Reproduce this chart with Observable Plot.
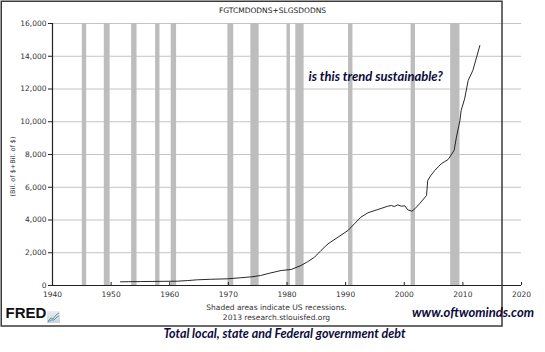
<!DOCTYPE html>
<html>
<head>
<meta charset="utf-8">
<script src="https://cdn.jsdelivr.net/npm/d3@7"></script>
<script src="https://cdn.jsdelivr.net/npm/@observablehq/plot@0.6"></script>
<style>
  html, body { margin: 0; padding: 0; background: #fff; }
  #chart { position: relative; width: 545px; height: 352px; }
</style>
</head>
<body>
<div id="chart"></div>
<script>
// ---- data ----
const years = [1951.6, 1953, 1955, 1957, 1959, 1961.3, 1963, 1964.7, 1967, 1969.9, 1972, 1974, 1975.5, 1977, 1979,
  1980.7, 1982.4, 1983.5, 1984.7, 1985.8, 1987, 1988.7, 1990.4, 1991.5, 1992.6, 1993.8, 1995.5, 1997.2, 1997.8,
  1998.3, 1998.9, 1999.5, 2000.1, 2000.6, 2001.3, 2001.8, 2002.6, 2003.8, 2004.0, 2004.5, 2005.2, 2006.3, 2007.5,
  2008.5, 2008.9, 2009.5, 2009.7, 2010.3, 2010.9, 2011.7, 2012.9];
const debt = [225, 232, 240, 248, 255, 263, 300, 348, 380, 409, 470, 530, 610, 750, 916,
  977, 1221, 1450, 1730, 2137, 2545, 2950, 3359, 3767, 4170, 4440, 4641, 4843, 4885,
  4824, 4926, 4843, 4865, 4620, 4537, 4683, 4989, 5496, 6412, 6700, 7023, 7430, 7700,
  8244, 9057, 10076, 10687, 11400, 12519, 13130, 14656];

const recStart = ["1945-02", "1948-11", "1953-07", "1957-08", "1960-04", "1969-12", "1973-11", "1980-01", "1981-07", "1990-07", "2001-03", "2007-12"];
const recEnd   = ["1945-10", "1949-10", "1954-05", "1958-04", "1961-02", "1970-11", "1975-03", "1980-07", "1982-11", "1991-03", "2001-11", "2009-06"];

const xTicks = [1940, 1950, 1960, 1970, 1980, 1990, 2000, 2010, 2020];
const yTicks = [0, 2000, 4000, 6000, 8000, 10000, 12000, 14000, 16000];

const seriesTitle = "FGTCMDODNS+SLGSDODNS";
const yLabel = "(Bil. of $+Bil. of $)";
const noteLines = ["Shaded areas indicate US recessions.", "2013 research.stlouisfed.org"];
const annotation = "is this trend sustainable?";
const site = "www.oftwominds.com";
const caption = "Total local, state and Federal government debt";

// ---- build tables ----
const series = years.map((y, i) => ({year: y, value: debt[i]}));
const toYear = (s, end) => { const [y, m] = s.split("-").map(Number); return y + (end ? m : m - 1) / 12; };
const recessions = recStart.map((s, i) => ({start: toYear(s, false), end: toYear(recEnd[i], true)}));

const axisFont = "DejaVu Sans, Verdana, sans-serif";
const navy = "#0b0b3e";
const ml = 52, mt = 23, mr = 24, mb = 67, W = 545, H = 352;
const commaFmt = d3.format(",.0f");

const chart = Plot.plot({
  width: W, height: H,
  marginLeft: ml, marginTop: mt, marginRight: mr, marginBottom: mb,
  style: {fontFamily: axisFont, background: "#fff", overflow: "visible"},
  x: {domain: [1940, 2020]},
  y: {domain: [0, 16000]},
  marks: [
    // grid
    Plot.ruleY(yTicks.slice(1), {stroke: "#c4c4c4", strokeWidth: 1}),
    // recession shading
    Plot.rect(recessions, {x1: "start", x2: "end", y1: 0, y2: 16000, fill: "#bdbdbd"}),
    // axes
    Plot.axisY({ticks: yTicks, tickFormat: commaFmt, tickSize: 4, tickPadding: 2, fontSize: 7.5, fill: "#333", stroke: "#222", label: null}),
    Plot.axisX({ticks: xTicks, tickFormat: d3.format("d"), tickSize: 0, tickPadding: 6, fontSize: 7.5, fill: "#333", label: null}),
    Plot.ruleX(xTicks, {y1: 0, y2: 0, insetTop: -3, stroke: "#222"}),
    Plot.ruleX([1940], {y1: 0, y2: 16000, stroke: "#222", strokeWidth: 1.2}),
    Plot.ruleY([0], {x1: 1940, x2: 2020, stroke: "#222", strokeWidth: 1.2}),
    // data line
    Plot.line(series, {x: "year", y: "value", stroke: "#111", strokeWidth: 0.9}),
    // outer frame
    Plot.frame({stroke: "#3a3a3a", strokeWidth: 1.5, insetLeft: -(ml - 0.75), insetTop: -(mt - 0.75), insetRight: -(W - mr - 540.5), insetBottom: -(325.5 - (H - mb))}),
    // texts
    Plot.text([seriesTitle], {frameAnchor: "top-left", dx: 272 - ml, dy: 7.5 - mt, textAnchor: "middle", fontSize: 7.5, fill: "#222"}),
    Plot.text([yLabel], {frameAnchor: "top-left", dx: 10 - ml, dy: 166 - mt, rotate: -90, textAnchor: "middle", fontSize: 6.5, fill: "#333"}),
    Plot.text([noteLines[0]], {frameAnchor: "bottom-left", dx: 276 - ml, dy: 309 - (H - mb), textAnchor: "middle", fontSize: 7.5, fill: "#333"}),
    Plot.text([noteLines[1]], {frameAnchor: "bottom-left", dx: 276 - ml, dy: 319.5 - (H - mb), textAnchor: "middle", fontSize: 7.5, fill: "#333"}),
    Plot.text([annotation], {frameAnchor: "top-left", dx: 308 - ml, dy: 71.5 - mt, textAnchor: "start", fontSize: 13, fontWeight: "bold", fontStyle: "italic", fontFamily: "Lato, sans-serif", fill: navy}),
    Plot.text([site], {frameAnchor: "bottom-left", dx: 411.5 - ml, dy: 316 - (H - mb), textAnchor: "start", fontSize: 13, fontWeight: "bold", fontStyle: "italic", fontFamily: "Lato, sans-serif", fill: navy}),
    Plot.text([caption], {frameAnchor: "bottom-left", dx: 284 - ml, dy: 337 - (H - mb), textAnchor: "middle", fontSize: 12.5, fontWeight: "bold", fontStyle: "italic", fontFamily: "Lato, sans-serif", fill: navy}),
    Plot.text(["FRED"], {frameAnchor: "bottom-left", dx: 5 - ml, dy: 317.5 - (H - mb), textAnchor: "start", fontSize: 15, fontWeight: 900, fontFamily: "Liberation Sans, Arial, sans-serif", fill: "#111"})
  ]
});

document.getElementById("chart").appendChild(chart);

// small FRED logo icon (decorative)
const svg = d3.select(chart);
const g = svg.append("g").attr("transform", "translate(47,311)");
const grad = svg.append("defs").append("linearGradient").attr("id", "lg").attr("x1", 0).attr("y1", 0).attr("x2", 0).attr("y2", 1);
grad.append("stop").attr("offset", "0").attr("stop-color", "#e8eef6");
grad.append("stop").attr("offset", "1").attr("stop-color", "#c7d3e3");
g.append("rect").attr("width", 13).attr("height", 12).attr("fill", "url(#lg)");
g.append("path").attr("d", "M1,10 L4,7 L6,8 L9,4 L12,2").attr("fill", "none").attr("stroke", "#6aa84f").attr("stroke-width", 1);
g.append("path").attr("d", "M1,11 L4,9 L7,9 L10,6 L12,5").attr("fill", "none").attr("stroke", "#6d8fc7").attr("stroke-width", 1);
</script>
</body>
</html>
